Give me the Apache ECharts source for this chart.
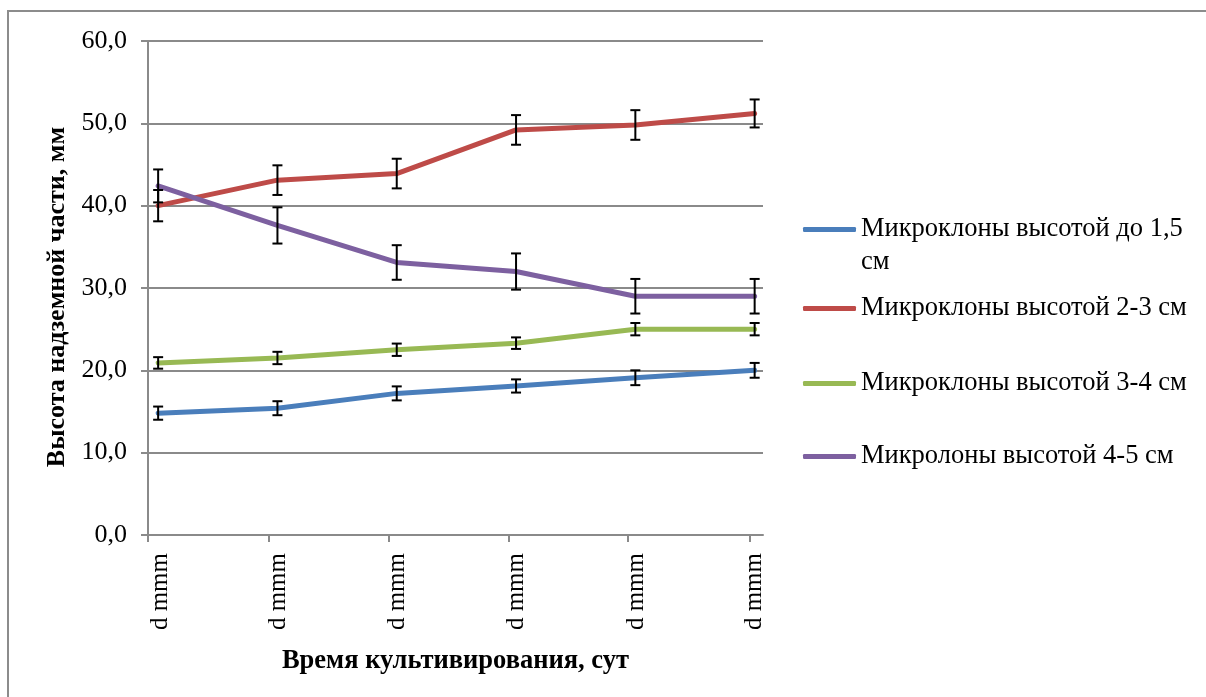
<!DOCTYPE html>
<html>
<head>
<meta charset="utf-8">
<script src="https://cdn.jsdelivr.net/npm/echarts@6/dist/echarts.min.js"></script>
<style>
  html, body { margin: 0; padding: 0; background: #fff; }
  #chart { width: 1206px; height: 697px; }
</style>
</head>
<body>
<div id="chart"></div>
<script>
// Time points along the x axis
const categories = ['d mmm', 'd mmm', 'd mmm', 'd mmm', 'd mmm', 'd mmm'];

// Series names
const seriesNames = [
  'Микроклоны высотой до 1,5 см',
  'Микроклоны высотой 2-3 см',
  'Микроклоны высотой 3-4 см',
  'Микролоны высотой 4-5 см'
];

// Mean shoot height, mm
const height15 = [14.8, 15.4, 17.2, 18.1, 19.1, 20.0];
const height23 = [40.0, 43.1, 43.9, 49.2, 49.8, 51.2];
const height34 = [20.9, 21.5, 22.5, 23.3, 25.0, 25.0];
const height45 = [42.4, 37.6, 33.1, 32.0, 29.0, 29.0];

// Error (±), mm
const err15 = [0.8, 0.85, 0.85, 0.8, 0.9, 0.9];
const err23 = [1.9, 1.8, 1.8, 1.8, 1.8, 1.7];
const err34 = [0.7, 0.75, 0.75, 0.7, 0.75, 0.75];
const err45 = [2.0, 2.2, 2.1, 2.2, 2.1, 2.1];

// Y axis tick values
const yTicks = [0, 10, 20, 30, 40, 50, 60];

const colors = ['#4A7EBB', '#BE4B48', '#98B954', '#7D60A0'];
const values = [height15, height23, height34, height45];
const errors = [err15, err23, err34, err45];

const FONT = '"Liberation Serif", "Times New Roman", serif';
const GRAY = '#8a8a8a';

const chart = echarts.init(document.getElementById('chart'), null, { renderer: 'canvas' });

const lineSeries = values.map((vals, i) => ({
  name: seriesNames[i],
  type: 'line',
  data: vals.map((v, k) => [k, v]),
  symbol: 'none',
  lineStyle: { color: colors[i], width: 5, cap: 'round', join: 'round' },
  itemStyle: { color: colors[i] },
  z: 2 + i,
  animation: false
}));

const errorSeries = values.map((vals, i) => ({
  type: 'custom',
  name: 'err' + i,
  data: vals.map((v, k) => [k, v - errors[i][k], v + errors[i][k]]),
  z: 10,
  silent: true,
  animation: false,
  renderItem: function (params, api) {
    const x = api.value(0);
    const lo = api.coord([x, api.value(1)]);
    const hi = api.coord([x, api.value(2)]);
    const half = 5;
    const style = { stroke: '#000', lineWidth: 2, fill: null };
    return {
      type: 'group',
      children: [
        { type: 'line', shape: { x1: lo[0], y1: lo[1], x2: hi[0], y2: hi[1] }, style: style },
        { type: 'line', shape: { x1: hi[0] - half, y1: hi[1], x2: hi[0] + half, y2: hi[1] }, style: style },
        { type: 'line', shape: { x1: lo[0] - half, y1: lo[1], x2: lo[0] + half, y2: lo[1] }, style: style }
      ]
    };
  }
}));

// Legend entries are laid out one by one; the first one wraps onto a second line
const legendTops = [180, 292, 367, 440];
const legends = seriesNames.map((name, i) => {
  const first = i === 0;
  return {
    data: [name],
    left: 803,
    top: legendTops[i],
    padding: 0,
    orient: 'vertical',
    icon: 'roundRect',
    itemWidth: 53,
    itemHeight: 5,
    selectedMode: false,
    formatter: first ? function () { return '\nМикроклоны высотой до 1,5\nсм'; } : undefined,
    textStyle: {
      fontFamily: FONT,
      fontSize: 26.5,
      color: '#000',
      lineHeight: 33
    }
  };
});

const option = {
  backgroundColor: '#fff',
  animation: false,
  grid: { left: 148, top: 41, width: 615, height: 494, containLabel: false },
  xAxis: {
    type: 'value',
    min: -0.085,
    max: 5.07,
    name: 'Время культивирования, сут',
    nameLocation: 'middle',
    nameGap: 113,
    nameTextStyle: { fontFamily: FONT, fontSize: 26.5, fontWeight: 'bold', color: '#000' },
    axisLine: { show: true, onZero: false, lineStyle: { color: GRAY, width: 2 } },
    axisTick: {
      show: true,
      length: 7,
      lineStyle: { color: GRAY, width: 2 },
      customValues: [-0.085, 0.925, 1.935, 2.935, 3.94, 4.96]
    },
    axisLabel: {
      customValues: [0.02, 1.01, 2.01, 3.0, 4.01, 5.0],
      rotate: 90,
      margin: 18,
      fontFamily: FONT,
      fontSize: 25,
      color: '#000',
      formatter: function (v) { return categories[Math.round(v)]; }
    },
    splitLine: { show: false }
  },
  yAxis: {
    type: 'value',
    min: yTicks[0],
    max: yTicks[yTicks.length - 1],
    interval: 10,
    name: 'Высота надземной части, мм',
    nameLocation: 'middle',
    nameGap: 77,
    nameTextStyle: {
      fontFamily: FONT, fontSize: 26, fontWeight: 'bold', color: '#000',
      padding: [0, 18, 0, 0]
    },
    axisLine: { show: true, onZero: false, lineStyle: { color: GRAY, width: 2 } },
    axisTick: { show: true, length: 7, lineStyle: { color: GRAY, width: 2 } },
    axisLabel: {
      margin: 21,
      fontFamily: FONT,
      fontSize: 26,
      color: '#000',
      formatter: function (v) { return v.toFixed(1).replace('.', ','); }
    },
    splitLine: { show: true, lineStyle: { color: GRAY, width: 2 } }
  },
  legend: legends,
  graphic: [{
    type: 'rect',
    shape: { x: 8, y: 11, width: 1250, height: 750 },
    style: { fill: null, stroke: '#8c8c8c', lineWidth: 2 },
    silent: true,
    z: 100
  }],
  series: lineSeries.concat(errorSeries)
};

chart.setOption(option);
</script>
</body>
</html>
